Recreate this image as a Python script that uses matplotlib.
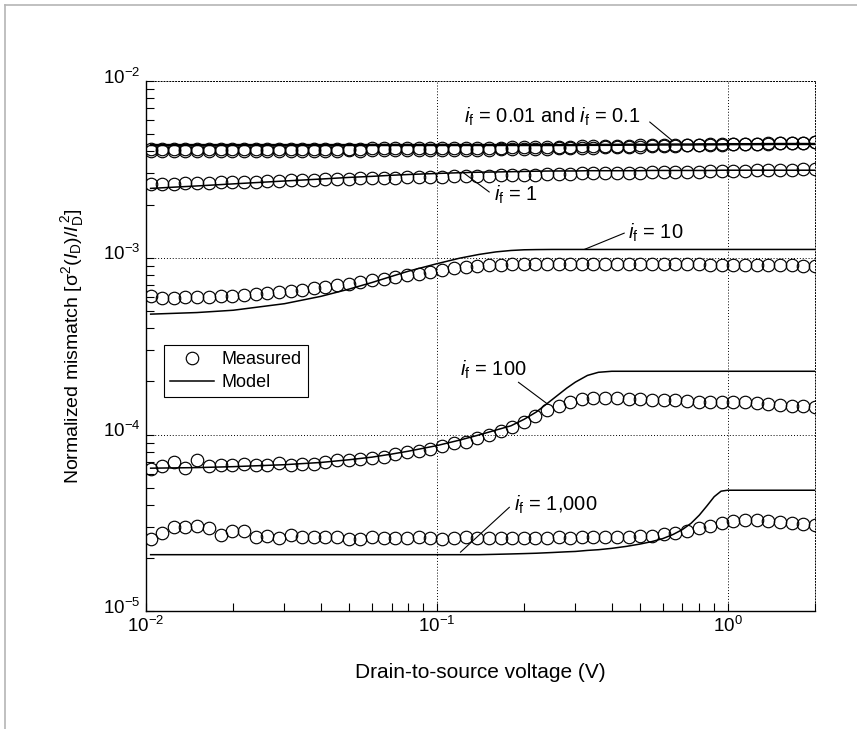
import matplotlib
matplotlib.use("Agg")
import matplotlib.pyplot as plt
import matplotlib.transforms as mtransforms
from matplotlib.lines import Line2D
from matplotlib.ticker import LogLocator, NullFormatter

plt.rcParams["font.family"] = ["Liberation Sans", "DejaVu Sans"]
plt.rcParams["mathtext.fontset"] = "custom"
plt.rcParams["mathtext.rm"] = "Liberation Sans"
plt.rcParams["mathtext.it"] = "Liberation Sans:italic"
plt.rcParams["mathtext.default"] = "regular"

# measured drain-to-source voltages (V)
vds = [0.0104, 0.0114, 0.0125, 0.0137, 0.0150, 0.0165, 0.0181, 0.0198, 0.0218, 0.0239,
       0.0262, 0.0287, 0.0315, 0.0345, 0.0379, 0.0415, 0.0455, 0.0499, 0.0547, 0.0600,
       0.0658, 0.0722, 0.0792, 0.0868, 0.0952, 0.104, 0.115, 0.126, 0.138, 0.151,
       0.166, 0.182, 0.199, 0.218, 0.240, 0.263, 0.288, 0.316, 0.346, 0.380,
       0.417, 0.457, 0.501, 0.549, 0.603, 0.661, 0.725, 0.795, 0.871, 0.956,
       1.048, 1.149, 1.260, 1.382, 1.516, 1.662, 1.823, 2.000]

# measured normalized mismatch
meas_if001 = [4.00, 4.02, 4.01, 4.03, 4.02, 4.02, 4.03, 4.02, 4.03, 4.03, 4.02, 4.03, 4.03, 4.04,
              4.03, 4.04, 4.04, 4.05, 4.04, 4.05, 4.05, 4.06, 4.06, 4.06, 4.07, 4.07, 4.08, 4.08,
              4.09, 4.09, 4.10, 4.11, 4.12, 4.13, 4.15, 4.16, 4.17, 4.19, 4.20, 4.22, 4.23, 4.25,
              4.26, 4.28, 4.29, 4.31, 4.32, 4.34, 4.35, 4.37, 4.38, 4.40, 4.41, 4.43, 4.45, 4.46,
              4.48, 4.50]
meas_if01 = [4.13, 4.12, 4.14, 4.12, 4.14, 4.13, 4.13, 4.14, 4.13, 4.14, 4.14, 4.13, 4.14, 4.14,
             4.15, 4.14, 4.15, 4.15, 4.15, 4.16, 4.16, 4.16, 4.17, 4.17, 4.17, 4.18, 4.18, 4.19,
             4.19, 4.20, 4.20, 4.21, 4.22, 4.23, 4.24, 4.25, 4.26, 4.27, 4.28, 4.29, 4.30, 4.31,
             4.32, 4.33, 4.34, 4.35, 4.36, 4.37, 4.38, 4.39, 4.40, 4.41, 4.43, 4.44, 4.45, 4.47,
             4.49, 4.52]
meas_if1 = [2.62, 2.63, 2.63, 2.65, 2.64, 2.66, 2.67, 2.68, 2.69, 2.70, 2.71, 2.73, 2.74, 2.75,
            2.77, 2.78, 2.79, 2.80, 2.81, 2.82, 2.83, 2.84, 2.85, 2.86, 2.87, 2.88, 2.89, 2.90,
            2.91, 2.92, 2.93, 2.94, 2.95, 2.96, 2.97, 2.98, 2.99, 3.00, 3.01, 3.01, 3.02, 3.03,
            3.03, 3.04, 3.05, 3.06, 3.06, 3.07, 3.08, 3.09, 3.10, 3.11, 3.12, 3.13, 3.14, 3.15,
            3.16, 3.17]
meas_if10 = [6.07, 5.90, 5.95, 5.97, 6.00, 6.02, 6.05, 6.10, 6.17, 6.24, 6.32, 6.40, 6.50, 6.60,
             6.72, 6.85, 7.00, 7.15, 7.28, 7.45, 7.62, 7.80, 7.98, 8.15, 8.32, 8.50, 8.70, 8.88,
             9.00, 9.08, 9.14, 9.20, 9.22, 9.23, 9.24, 9.24, 9.25, 9.25, 9.24, 9.25, 9.24, 9.23,
             9.22, 9.22, 9.21, 9.20, 9.19, 9.18, 9.16, 9.15, 9.14, 9.12, 9.10, 9.09, 9.07, 9.05,
             9.03, 9.00]
meas_if100 = [6.42, 6.63, 7.00, 6.50, 7.15, 6.60, 6.75, 6.75, 6.80, 6.70, 6.75, 6.90, 6.70, 6.80,
              6.85, 7.00, 7.15, 7.20, 7.25, 7.35, 7.50, 7.74, 7.95, 8.10, 8.30, 8.60, 8.90, 9.10,
              9.50, 10.0, 10.5, 11.1, 11.8, 12.8, 13.7, 14.5, 15.3, 15.8, 16.1, 16.2, 16.1, 15.9,
              15.8, 15.6, 15.6, 15.6, 15.5, 15.3, 15.2, 15.2, 15.2, 15.2, 15.0, 14.8, 14.7, 14.5,
              14.5, 14.4]
meas_if1000 = [2.58, 2.79, 3.00, 3.01, 3.05, 2.97, 2.70, 2.83, 2.83, 2.63, 2.67, 2.60, 2.70, 2.62,
               2.63, 2.63, 2.63, 2.58, 2.58, 2.62, 2.60, 2.61, 2.60, 2.62, 2.60, 2.58, 2.61, 2.62,
               2.60, 2.61, 2.60, 2.61, 2.60, 2.61, 2.61, 2.62, 2.61, 2.62, 2.62, 2.63, 2.63, 2.64,
               2.66, 2.68, 2.72, 2.78, 2.85, 2.95, 3.05, 3.15, 3.25, 3.28, 3.28, 3.25, 3.22, 3.17,
               3.12, 3.08]

# model curves
vds_model = [0.0104, 0.015, 0.02, 0.03, 0.04, 0.05, 0.06, 0.07, 0.08, 0.1, 0.12, 0.14, 0.16,
             0.18, 0.2, 0.22, 0.25, 0.28, 0.3, 0.33, 0.36, 0.4, 0.45, 0.5, 0.55, 0.6, 0.65,
             0.7, 0.75, 0.8, 0.85, 0.9, 0.95, 1.0, 1.1, 1.2, 1.5, 2.0]
model_if001 = [4.32, 4.32, 4.32, 4.32, 4.32, 4.32, 4.32, 4.32, 4.32, 4.32, 4.32, 4.32, 4.32,
               4.32, 4.32, 4.32, 4.32, 4.32, 4.32, 4.33, 4.33, 4.33, 4.34, 4.34, 4.34, 4.35, 4.35,
               4.35, 4.35, 4.36, 4.36, 4.36, 4.36, 4.37, 4.37, 4.37, 4.38, 4.38]
model_if01 = [4.37, 4.37, 4.37, 4.37, 4.37, 4.37, 4.37, 4.37, 4.37, 4.37, 4.37, 4.37, 4.37,
              4.37, 4.37, 4.37, 4.37, 4.37, 4.37, 4.38, 4.38, 4.38, 4.39, 4.39, 4.39, 4.40, 4.40,
              4.40, 4.40, 4.41, 4.41, 4.41, 4.41, 4.42, 4.42, 4.42, 4.43, 4.43]
model_if1 = [2.47, 2.55, 2.62, 2.72, 2.79, 2.85, 2.89, 2.93, 2.96, 3.00, 3.03, 3.05, 3.06,
             3.07, 3.08, 3.09, 3.10, 3.10, 3.10, 3.11, 3.11, 3.11, 3.11, 3.11, 3.12, 3.12, 3.12,
             3.12, 3.12, 3.12, 3.12, 3.12, 3.13, 3.13, 3.13, 3.13, 3.13, 3.13]
model_if10 = [4.80, 4.90, 5.05, 5.50, 6.05, 6.65, 7.25, 7.85, 8.40, 9.25, 9.95, 10.45, 10.8,
              11.0, 11.1, 11.13, 11.15, 11.15, 11.15, 11.15, 11.15, 11.15, 11.15, 11.15, 11.15,
              11.15, 11.15, 11.15, 11.15, 11.15, 11.15, 11.15, 11.15, 11.15, 11.15, 11.15, 11.15,
              11.15]
model_if100 = [6.45, 6.50, 6.58, 6.75, 6.95, 7.20, 7.45, 7.75, 8.05, 8.65, 9.30, 9.95, 10.6,
               11.2, 12.2, 13.4, 15.8, 18.3, 19.8, 21.6, 22.5, 22.8, 22.8, 22.8, 22.8, 22.8, 22.8,
               22.8, 22.8, 22.8, 22.8, 22.8, 22.8, 22.8, 22.8, 22.8, 22.8, 22.8]
model_if1000 = [2.09, 2.09, 2.09, 2.09, 2.09, 2.09, 2.09, 2.09, 2.09, 2.09, 2.09, 2.09, 2.10,
                2.11, 2.12, 2.13, 2.15, 2.17, 2.18, 2.21, 2.23, 2.27, 2.33, 2.40, 2.48, 2.58, 2.72,
                2.90, 3.15, 3.50, 3.95, 4.45, 4.78, 4.84, 4.84, 4.84, 4.84, 4.84]

meas = [(meas_if001, 1e-3), (meas_if01, 1e-3), (meas_if1, 1e-3),
        (meas_if10, 1e-4), (meas_if100, 1e-5), (meas_if1000, 1e-5)]
models = [(model_if001, 1e-3), (model_if01, 1e-3), (model_if1, 1e-3),
          (model_if10, 1e-4), (model_if100, 1e-5), (model_if1000, 1e-5)]

fig = plt.figure(figsize=(8.57, 7.29), dpi=100)
ax = fig.add_axes([0.170, 0.1615, 0.7811, 0.7273])

for vals, scale in models:
    ax.plot(vds_model, [v * scale for v in vals], color="black", lw=1.1)
for vals, scale in meas:
    ax.plot(vds, [v * scale for v in vals], ls="none", marker="o", ms=9,
            mfc="none", mec="black", mew=0.85)

ax.set_xscale("log")
ax.set_yscale("log")
ax.set_xlim(0.01, 2)
ax.set_ylim(1e-5, 1e-2)

ax.set_xticks([0.01, 0.1, 1])
ax.set_xticklabels([r"$10^{-2}$", r"$10^{-1}$", r"$10^{0}$"])
ax.set_yticks([1e-5, 1e-4, 1e-3, 1e-2])
ax.set_yticklabels([r"$10^{-5}$", r"$10^{-4}$", r"$10^{-3}$", r"$10^{-2}$"])
ax.xaxis.set_minor_locator(LogLocator(base=10, subs=range(2, 10)))
ax.yaxis.set_minor_locator(LogLocator(base=10, subs=range(2, 10)))
ax.xaxis.set_minor_formatter(NullFormatter())
ax.yaxis.set_minor_formatter(NullFormatter())
ax.tick_params(which="both", direction="in", length=6, width=0.8, top=False, right=False,
               labelsize=13.5)
ax.tick_params(axis="x", pad=3)
ax.tick_params(axis="y", pad=4)
# lift the y tick labels a little so the base "10" sits on the tick, as in the source
lift = mtransforms.ScaledTranslation(0, 4 / 72, fig.dpi_scale_trans)
for lab in ax.get_yticklabels():
    lab.set_transform(lab.get_transform() + lift)

ax.grid(True, which="major", ls=(0, (1, 2)), color="black", lw=0.7)
for side in ["top", "right"]:
    ax.spines[side].set_linestyle((0, (1, 2)))
    ax.spines[side].set_linewidth(0.7)
for side in ["left", "bottom"]:
    ax.spines[side].set_linewidth(1.0)

ax.set_xlabel("Drain-to-source voltage (V)", fontsize=15, labelpad=20)
ax.set_ylabel(r"Normalized mismatch [$\sigma^2(\mathit{I}_\mathrm{D})/\mathit{I}_\mathrm{D}^{\,2}$]",
              fontsize=14, labelpad=12)

fs = 14.5
lead = dict(arrowstyle="-", color="black", lw=0.8, shrinkA=0, shrinkB=0)
ax.text(0.250, 6.26e-3, r"$\mathit{i}_\mathrm{f}$ = 0.01 and $\mathit{i}_\mathrm{f}$ = 0.1",
        fontsize=fs, ha="center", va="center")
ax.annotate("", xy=(0.648, 4.58e-3), xytext=(0.540, 5.87e-3), arrowprops=lead)
ax.text(0.158, 2.265e-3, r"$\mathit{i}_\mathrm{f}$ = 1", fontsize=fs, ha="left", va="center")
ax.annotate("", xy=(0.1226, 3.06e-3), xytext=(0.1518, 2.355e-3), arrowprops=lead)
ax.text(0.4536, 1.38e-3, r"$\mathit{i}_\mathrm{f}$ = 10", fontsize=fs, ha="left", va="center")
ax.annotate("", xy=(0.322, 1.115e-3), xytext=(0.442, 1.38e-3), arrowprops=lead)
ax.text(0.1567, 2.31e-4, r"$\mathit{i}_\mathrm{f}$ = 100", fontsize=fs, ha="center", va="center")
ax.annotate("", xy=(0.2387, 1.503e-4), xytext=(0.191, 1.977e-4), arrowprops=lead)
ax.text(0.185, 3.98e-5, r"$\mathit{i}_\mathrm{f}$ = 1,000", fontsize=fs, ha="left", va="center")
ax.annotate("", xy=(0.1207, 2.157e-5), xytext=(0.178, 3.88e-5), arrowprops=lead)

handles = [Line2D([], [], ls="none", marker="o", ms=9, mfc="none", mec="black", mew=0.85),
           Line2D([], [], color="black", lw=1.1)]
leg = ax.legend(handles, ["Measured", "Model"], loc="upper left", bbox_to_anchor=(0.0273, 0.502),
                borderaxespad=0, fontsize=13, frameon=True, fancybox=False, framealpha=1,
                edgecolor="black", handlelength=2.4, handletextpad=0.45, borderpad=0.35,
                labelspacing=0.3)
leg.get_frame().set_linewidth(0.8)

# grey outer frame of the source figure
fig.add_artist(Line2D([5 / 857, 1], [1 - 5 / 729, 1 - 5 / 729], color="#b5b5b5", lw=1.2))
fig.add_artist(Line2D([5 / 857, 5 / 857], [0, 1 - 5 / 729], color="#b5b5b5", lw=1.2))

fig.savefig("out.png", dpi=100)
